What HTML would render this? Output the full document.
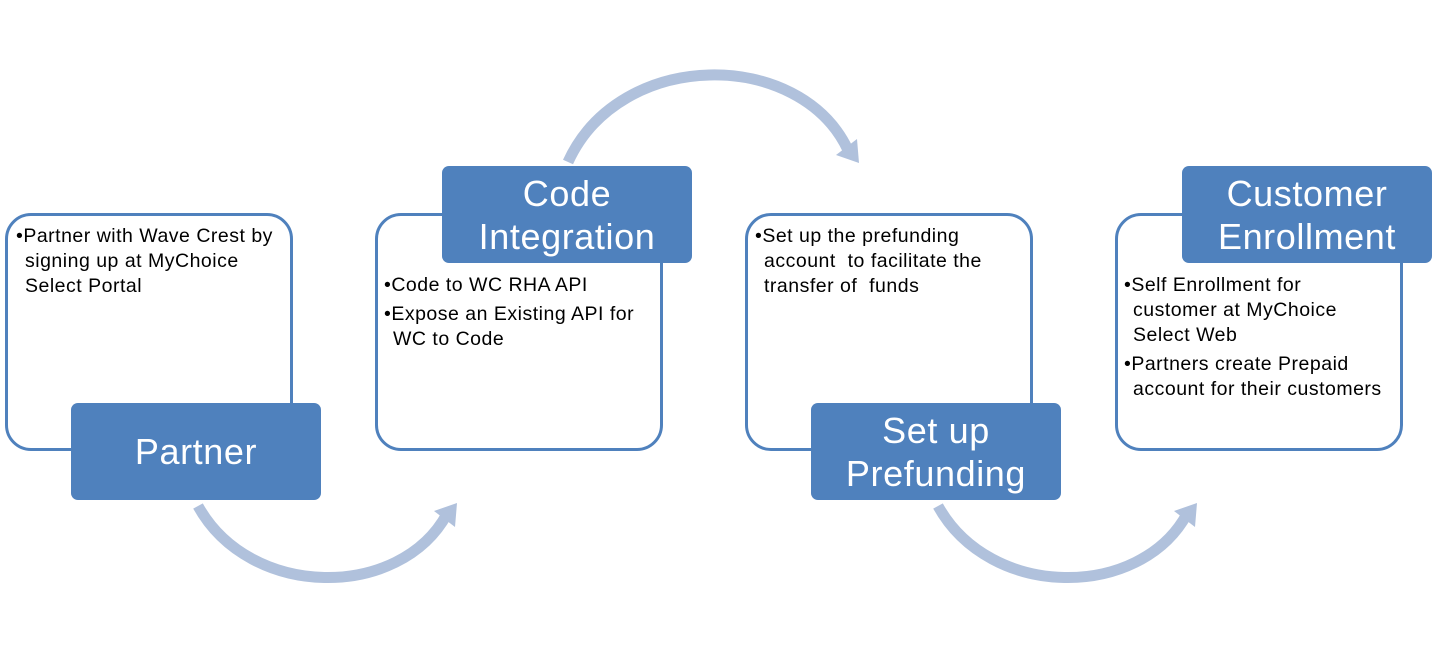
<!DOCTYPE html>
<html><head><meta charset="utf-8"><style>
body{margin:0;width:1436px;height:666px;background:#fff;position:relative;overflow:hidden;font-family:"Liberation Sans",sans-serif}
.box{position:absolute;border:3px solid #4F81BD;border-radius:26px;background:#fff;box-sizing:border-box;width:288px;height:238px}
.lab{position:absolute;background:#4F81BD;border-radius:7px;color:#fff;font-size:36px;letter-spacing:0.6px;text-align:center;display:flex;align-items:center;justify-content:center;line-height:43px;width:250px;height:97px}
.t{position:absolute;font-size:19.5px;letter-spacing:0.5px;line-height:25px;color:#000;white-space:nowrap}
.t p{margin:0;padding-left:9px;text-indent:-9px}
</style></head><body>
<svg width="1436" height="666" style="position:absolute;left:0;top:0">
<g fill="none" stroke="#B0C1DC" stroke-width="11">
<path d="M 568 162 C 620 48, 800 48, 848 150"/>
<path d="M 198 506 C 250 600, 400 600, 447 514"/>
<path d="M 938 506 C 990 600, 1140 600, 1187 514"/>
</g>
<g fill="#B0C1DC">
<polygon points="859,163 857,139 836,155"/>
<polygon points="457,503 455,527 434,511"/>
<polygon points="1197,503 1195,527 1174,511"/>
</g>
</svg>
<div class="box" style="left:5px;top:213px"></div>
<div class="box" style="left:375px;top:213px"></div>
<div class="box" style="left:745px;top:213px"></div>
<div class="box" style="left:1115px;top:213px"></div>
<div class="lab" style="left:71px;top:403px">Partner</div>
<div class="lab" style="left:442px;top:166px">Code<br>Integration</div>
<div class="lab" style="left:811px;top:403px">Set up<br>Prefunding</div>
<div class="lab" style="left:1182px;top:166px">Customer<br>Enrollment</div>
<div class="t" style="left:16px;top:224px"><p>•Partner with Wave Crest by<br>signing up at MyChoice<br>Select Portal</p></div>
<div class="t" style="left:384px;top:273px"><p style="margin-bottom:4px">•Code to WC RHA API</p><p>•Expose an Existing API for<br>WC to Code</p></div>
<div class="t" style="left:755px;top:224px"><p>•Set up the prefunding<br>account &nbsp;to facilitate the<br>transfer of &nbsp;funds</p></div>
<div class="t" style="left:1124px;top:273px"><p style="margin-bottom:4px">•Self Enrollment for<br>customer at MyChoice<br>Select Web</p><p>•Partners create Prepaid<br>account for their customers</p></div>
</body></html>
